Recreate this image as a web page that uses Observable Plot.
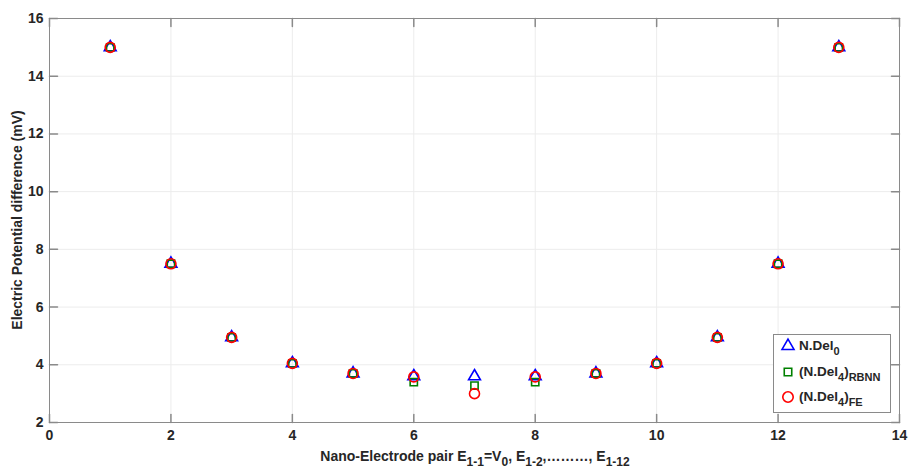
<!DOCTYPE html>
<html>
<head>
<meta charset="utf-8">
<script src="https://cdn.jsdelivr.net/npm/d3@7"></script>
<script src="https://cdn.jsdelivr.net/npm/@observablehq/plot@0.6"></script>
<style>
  html, body { margin: 0; padding: 0; background: #fff; }
  #chart svg { display: block; font-family: "Liberation Sans", Arial, sans-serif; }
</style>
</head>
<body>
<div id="chart"></div>
<script>
// Electrode pair index along the nano-electrode array
const pairs = [1, 2, 3, 4, 5, 6, 7, 8, 9, 10, 11, 12, 13];
// Potential difference (mV) per pair for each model
const nDel0     = [15, 7.5, 4.95, 4.05, 3.7, 3.6, 3.6, 3.6, 3.7, 4.05, 4.95, 7.5, 15];
const nDel4RBNN = [15, 7.5, 4.95, 4.05, 3.7, 3.4, 3.28, 3.4, 3.7, 4.05, 4.95, 7.5, 15];
const nDel4FE   = [15, 7.5, 4.95, 4.05, 3.7, 3.58, 3.0, 3.58, 3.7, 4.05, 4.95, 7.5, 15];
// Axis ticks
const xTicks = [0, 2, 4, 6, 8, 10, 12, 14];
const yTicks = [2, 4, 6, 8, 10, 12, 14, 16];

const rows = (vals) => pairs.map((p, i) => ({pair: p, value: vals[i]}));

const W = 909, H = 472;
const axisGray = "#8a8a8a";
const gridGray = "#ececec";
const textColor = "#262626";

// plain straight tick line, drawn from the anchor point
const tickLine = {draw(context, l) { context.moveTo(0, 0); context.lineTo(0, -l); }};
const tickOpts = {length: 8, anchor: "start", stroke: axisGray, shape: tickLine};

const chart = Plot.plot({
  width: W,
  height: H,
  marginLeft: 49,
  marginRight: 10,
  marginTop: 18,
  marginBottom: 50,
  style: {fontFamily: "Liberation Sans, Arial, sans-serif", fontSize: "14px", fontWeight: "bold", color: textColor},
  x: {domain: [0, 14], ticks: xTicks, label: null},
  y: {domain: [2, 16], ticks: yTicks, label: null},
  marks: [
    Plot.gridX(xTicks, {stroke: gridGray, strokeOpacity: 1}),
    Plot.gridY(yTicks, {stroke: gridGray, strokeOpacity: 1}),
    Plot.frame({stroke: axisGray, strokeWidth: 1}),
    Plot.axisX(xTicks, {tickSize: 0, tickPadding: 8, fontWeight: "bold", fontSize: 14}),
    Plot.axisY(yTicks, {tickSize: 0, tickPadding: 6, fontWeight: "bold", fontSize: 14}),
    // inward ticks on all four sides
    Plot.vector(yTicks, {x: 0, y: d => d, rotate: 90, ...tickOpts}),
    Plot.vector(yTicks, {x: 14, y: d => d, rotate: -90, ...tickOpts}),
    Plot.vector(xTicks, {x: d => d, y: 2, rotate: 0, ...tickOpts}),
    Plot.vector(xTicks, {x: d => d, y: 16, rotate: 180, ...tickOpts}),
    // series
    Plot.dot(rows(nDel0), {x: "pair", y: "value", symbol: "triangle", r: 4.4, stroke: "#0000ff", fill: "none", strokeWidth: 1.6}),
    Plot.dot(rows(nDel4RBNN), {x: "pair", y: "value", symbol: "square", r: 4.1, stroke: "#008000", fill: "none", strokeWidth: 1.6}),
    Plot.dot(rows(nDel4FE), {x: "pair", y: "value", symbol: "circle", r: 5, stroke: "#ff0000", fill: "none", strokeWidth: 1.6})
  ]
});

document.getElementById("chart").appendChild(chart);

const svg = d3.select(chart);
const font = "Liberation Sans, Arial, sans-serif";

// y-axis title
svg.append("text")
  .attr("transform", "translate(22,220) rotate(-90)")
  .attr("text-anchor", "middle")
  .attr("font-family", font).attr("font-size", 14).attr("font-weight", "bold").attr("fill", textColor)
  .text("Electric Potential difference (mV)");

// text with alternating baseline / subscript runs
function richText(sel, runs, subSize) {
  runs.forEach(([t, sub], i) => {
    const prev = i > 0 ? runs[i - 1][1] : 0;
    const dy = sub === prev ? 0 : (sub ? 5 : -5);
    const ts = sel.append("tspan").text(t);
    if (dy) ts.attr("dy", dy);
    if (sub) ts.attr("font-size", subSize);
  });
}

// x-axis title with subscripts
const xt = svg.append("text")
  .attr("x", 475).attr("y", 461)
  .attr("text-anchor", "middle")
  .attr("font-family", font).attr("font-size", 14).attr("font-weight", "bold").attr("fill", textColor);
richText(xt, [
  ["Nano-Electrode pair E", 0], ["1-1", 1], ["=V", 0], ["0", 1], [", E", 0], ["1-2", 1],
  [",………, E", 0], ["1-12", 1]
], 12);

// legend
const lg = svg.append("g").attr("font-family", font).attr("font-weight", "bold").attr("fill", textColor).attr("text-anchor", "start");
lg.append("rect").attr("x", 773.5).attr("y", 334.5).attr("width", 117).attr("height", 78)
  .attr("fill", "#fff").attr("stroke", axisGray);
const items = [
  {sym: d3.symbolTriangle, size: 62, color: "#0000ff", y: 346, runs: [["N.Del", 0], ["0", 1]]},
  {sym: d3.symbolSquare, size: 56, color: "#008000", y: 372, runs: [["(N.Del", 0], ["4", 1], [")", 0], ["RBNN", 1]]},
  {sym: d3.symbolCircle, size: 85, color: "#ff0000", y: 397, runs: [["(N.Del", 0], ["4", 1], [")", 0], ["FE", 1]]}
];
items.forEach(it => {
  lg.append("path")
    .attr("d", d3.symbol(it.sym, it.size)())
    .attr("transform", `translate(788,${it.y})`)
    .attr("fill", "none").attr("stroke", it.color).attr("stroke-width", 1.6);
  const t = lg.append("text").attr("x", 799).attr("y", it.y + 4).attr("font-size", 13.5).attr("text-anchor", "start");
  richText(t, it.runs, 11);
});
</script>
</body>
</html>
